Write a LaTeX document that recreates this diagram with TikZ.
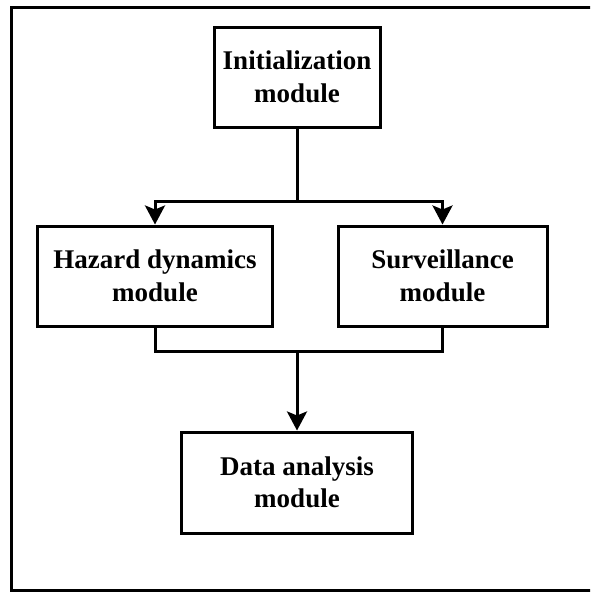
\documentclass[tikz,border=0pt]{standalone}
\usepackage{fontspec}
\setmainfont{Liberation Serif}
\usepackage{xcolor}
\usepackage{tikz}
\usetikzlibrary{arrows.meta}
\definecolor{ink}{HTML}{000000}
\tikzset{
  module/.style={draw=ink, line width=3pt, align=center, inner sep=0pt,
    font=\fontsize{27}{32.5}\selectfont\bfseries, text=ink},
  link/.style={draw=ink, line width=3pt},
  flow/.style={link, -{Stealth[length=19pt, width=20pt, inset=4pt]}}
}

\begin{document}
\begin{tikzpicture}[x=1pt, y=-1pt]
  \useasboundingbox (0,0) rectangle (590,592);
  \clip (0,0) rectangle (590,592);

  % Frame
  \draw[link] (11,7) rectangle (600,590);

  % Modules
  \node[module, minimum width=166pt, minimum height=100pt] (init) at (297,77) {Initialization\\module};
  \node[module, minimum width=235pt, minimum height=100pt] (hazard) at (155,276) {Hazard dynamics\\module};
  \node[module, minimum width=209pt, minimum height=100pt] (surv) at (442.5,276) {Surveillance\\module};
  \node[module, minimum width=231pt, minimum height=101pt] (data) at (297,482.5) {Data analysis\\module};

  % Split
  \coordinate (split) at (297,201.5);
  \draw[link] (init) -- (split);
  \draw[flow] (split) -| (hazard);
  \draw[flow] (split) -| (surv);

  % Merge
  \coordinate (merge) at (297,351);
  \draw[link] (hazard) |- (merge);
  \draw[link] (surv) |- (merge);
  \draw[flow] (merge) -- (data);
\end{tikzpicture}
\end{document}
